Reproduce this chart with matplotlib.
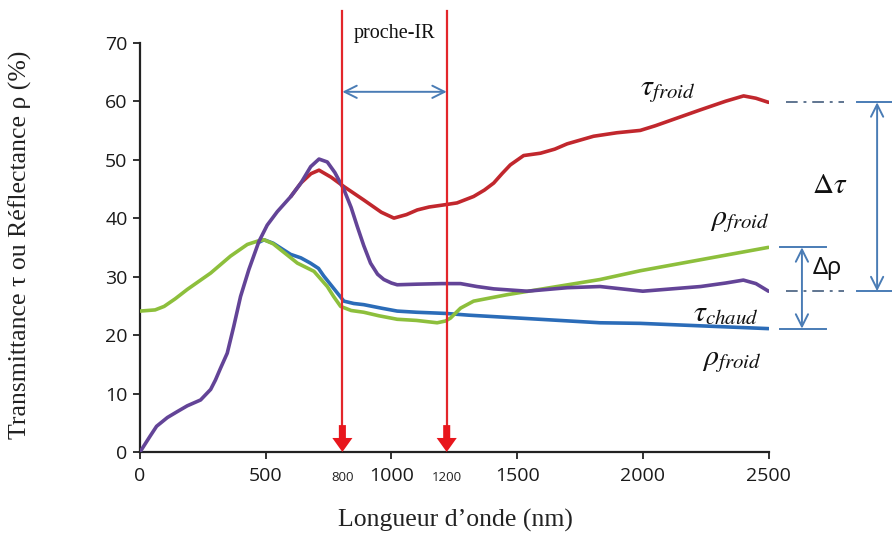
import matplotlib
matplotlib.use("Agg")
import matplotlib.pyplot as plt

plt.rcParams['mathtext.fontset'] = 'stix'

# tau chaud (violet)
wl_tau_chaud = [0, 40, 66, 109, 148, 188, 241, 281, 300, 320, 347, 373, 400, 433, 473, 506, 546,
                600, 640, 679, 712, 745, 775, 811, 840, 864, 890, 917, 945, 970, 1000, 1023,
                1100, 1200, 1275, 1340, 1407, 1540, 1700, 1830, 2000, 2230, 2330, 2400, 2450, 2500]
tau_chaud = [0.0, 2.7, 4.4, 5.9, 6.9, 7.9, 8.9, 10.7, 12.3, 14.3, 16.9, 21.5, 26.6, 31.2, 36.0, 38.8, 41.1,
             43.7, 46.0, 48.8, 50.1, 49.6, 47.8, 44.9, 41.8, 38.6, 35.3, 32.3, 30.4, 29.5, 28.9, 28.6,
             28.7, 28.8, 28.8, 28.3, 27.9, 27.5, 28.1, 28.3, 27.5, 28.3, 28.9, 29.4, 28.8, 27.5]

# tau froid (rouge)
wl_tau_froid = [600, 640, 680, 712, 760, 811, 890, 960, 1010, 1060, 1103, 1150, 1215,
                1261, 1327, 1370, 1407, 1440, 1473, 1526, 1593, 1650, 1699, 1804, 1897,
                1990, 2050, 2228, 2330, 2401, 2450, 2500]
tau_froid = [43.7, 46.0, 47.6, 48.2, 47.0, 45.4, 43.1, 41.0, 40.0, 40.6, 41.4, 41.9, 42.3,
             42.6, 43.7, 44.8, 46.0, 47.6, 49.1, 50.7, 51.1, 51.8, 52.7, 54.0, 54.6,
             55.0, 55.8, 58.5, 60.0, 60.9, 60.5, 59.8]

# rho (bleu)
wl_rho_bleu = [470, 493, 530, 599, 640, 678, 710, 731, 770, 811, 850, 890, 960, 1023, 1100,
               1215, 1308, 1830, 1990, 2500]
rho_bleu = [35.8, 36.3, 35.7, 33.8, 33.2, 32.3, 31.4, 30.1, 28.0, 25.8, 25.4, 25.2, 24.6, 24.1, 23.9,
            23.7, 23.4, 22.1, 22.0, 21.1]

# rho froid (vert)
wl_rho_vert = [0, 60, 96, 140, 188, 281, 360, 427, 470, 493, 530, 559, 600, 626, 692, 745,
               770, 798, 840, 890, 950, 1023, 1100, 1182, 1215, 1235, 1275, 1327, 1460,
               1830, 1990, 2500]
rho_vert = [24.1, 24.3, 24.9, 26.2, 27.8, 30.6, 33.5, 35.5, 36.1, 36.3, 35.6, 34.6, 33.2, 32.3, 30.9, 28.3,
            26.6, 24.9, 24.2, 23.9, 23.3, 22.7, 22.5, 22.1, 22.4, 22.9, 24.6, 25.8, 26.9,
            29.5, 31.0, 35.0]

nir_limits = [805, 1220]
nir_labels = ['800', '1200']
xticks = [0, 500, 1000, 1500, 2000, 2500]
yticks = [0, 10, 20, 30, 40, 50, 60, 70]

RED = '#c1272d'
PURPLE = '#634497'
BLUE = '#2b6cb8'
GREEN = '#8dbf3c'
ANNOT = '#4a7cb5'
DASH = '#5f7590'

fig = plt.figure(figsize=(8.92, 5.38), dpi=100)
ax = fig.add_axes([140 / 892, 86 / 538, 628.5 / 892, 409.3 / 538])

lw = 2.6
ax.plot(wl_rho_bleu, rho_bleu, color=BLUE, lw=lw, solid_joinstyle='round', solid_capstyle='round', zorder=2)
ax.plot(wl_rho_vert, rho_vert, color=GREEN, lw=lw, solid_joinstyle='round', solid_capstyle='round', zorder=3)
ax.plot(wl_tau_froid, tau_froid, color=RED, lw=lw, solid_joinstyle='round', solid_capstyle='round', zorder=4)
ax.plot(wl_tau_chaud, tau_chaud, color=PURPLE, lw=lw, solid_joinstyle='round', solid_capstyle='round', zorder=5)

ax.set_xlim(0, 2500)
ax.set_ylim(0, 70)
ax.set_xticks(xticks)
ax.set_yticks(yticks)
for s in ['top', 'right']:
    ax.spines[s].set_visible(False)
for s in ['left', 'bottom']:
    ax.spines[s].set_linewidth(1.6)
    ax.spines[s].set_color('#222222')
ax.tick_params(direction='out', length=5, width=1.3, color='#222222',
               labelsize=14, labelcolor='#1a1a1a')
ax.tick_params(axis='x', pad=6)
ax.tick_params(axis='y', pad=4)
for lab in ax.get_xticklabels() + ax.get_yticklabels():
    lab.set_family('Open Sans')

# proche-IR limits
for x, lab in zip(nir_limits, nir_labels):
    ax.plot([x, x], [75.5, 4.5], color='#e3262b', lw=1.6, clip_on=False, zorder=6)
    ax.arrow(x, 4.6, 0, -4.6, width=28, head_width=80, head_length=2.4,
             length_includes_head=True, color='#e8161c', lw=0, zorder=7, clip_on=False)
    ax.text(x, -4.4, lab, ha='center', va='center', fontsize=9.5, family='Open Sans', color='#222222')

ax.annotate('', xy=(nir_limits[0], 61.6), xytext=(nir_limits[1], 61.6),
            arrowprops=dict(arrowstyle='<->', color=ANNOT, lw=1.4, mutation_scale=22,
                            shrinkA=0, shrinkB=0), annotation_clip=False)
ax.text(sum(nir_limits) / 2, 71.5, 'proche-IR', ha='center', va='center',
        fontsize=14.5, family='Liberation Serif', color='#111111')

# delta tau / delta rho
t_top, t_bot = tau_froid[-1], tau_chaud[-1]
r_top, r_bot = rho_vert[-1], rho_bleu[-1]
for y in [t_top, t_bot]:
    ax.plot([2570, 2800], [y, y], color=DASH, lw=1.4, ls=(0, (6, 3, 1.5, 3)), clip_on=False)
    ax.plot([2852, 2995], [y, y], color=ANNOT, lw=1.4, clip_on=False)
ax.annotate('', xy=(2932, t_top), xytext=(2932, t_bot),
            arrowprops=dict(arrowstyle='<->', color=ANNOT, lw=1.4, mutation_scale=22,
                            shrinkA=0, shrinkB=0), annotation_clip=False)
for y in [r_top, r_bot]:
    ax.plot([2545, 2730], [y, y], color=ANNOT, lw=1.4, clip_on=False)
ax.annotate('', xy=(2633, r_top), xytext=(2633, r_bot),
            arrowprops=dict(arrowstyle='<->', color=ANNOT, lw=1.4, mutation_scale=22,
                            shrinkA=0, shrinkB=0), annotation_clip=False)

ax.text(2742, 45.6, r'$\Delta\tau$', ha='center', va='center', fontsize=21, color='#111111')
ax.text(2735, 31.4, 'Δρ', ha='center', va='center', fontsize=17, family='Noto Sans', color='#111111')

ax.text(2100, 61.8, r'$\tau_{froid}$', ha='center', va='center', fontsize=21.5, color='#111111')
ax.text(2387, 39.6, r'$\rho_{froid}$', ha='center', va='center', fontsize=21.5, color='#111111')
ax.text(2331, 23.9, r'$\tau_{chaud}$', ha='center', va='center', fontsize=21.5, color='#111111')
ax.text(2355, 15.7, r'$\rho_{froid}$', ha='center', va='center', fontsize=21.5, color='#111111')

fig.text(455 / 892, 1 - 520 / 538, 'Longueur d’onde (nm)', ha='center', va='center',
         fontsize=18.5, family='Liberation Serif', color='#222222')
fig.text(20 / 892, 1 - 245 / 538, 'Transmittance τ ou Réflectance ρ (%)', ha='center', va='center',
         rotation=90, fontsize=18.5, family='Liberation Serif', color='#222222')

fig.savefig('out.png', dpi=100)
